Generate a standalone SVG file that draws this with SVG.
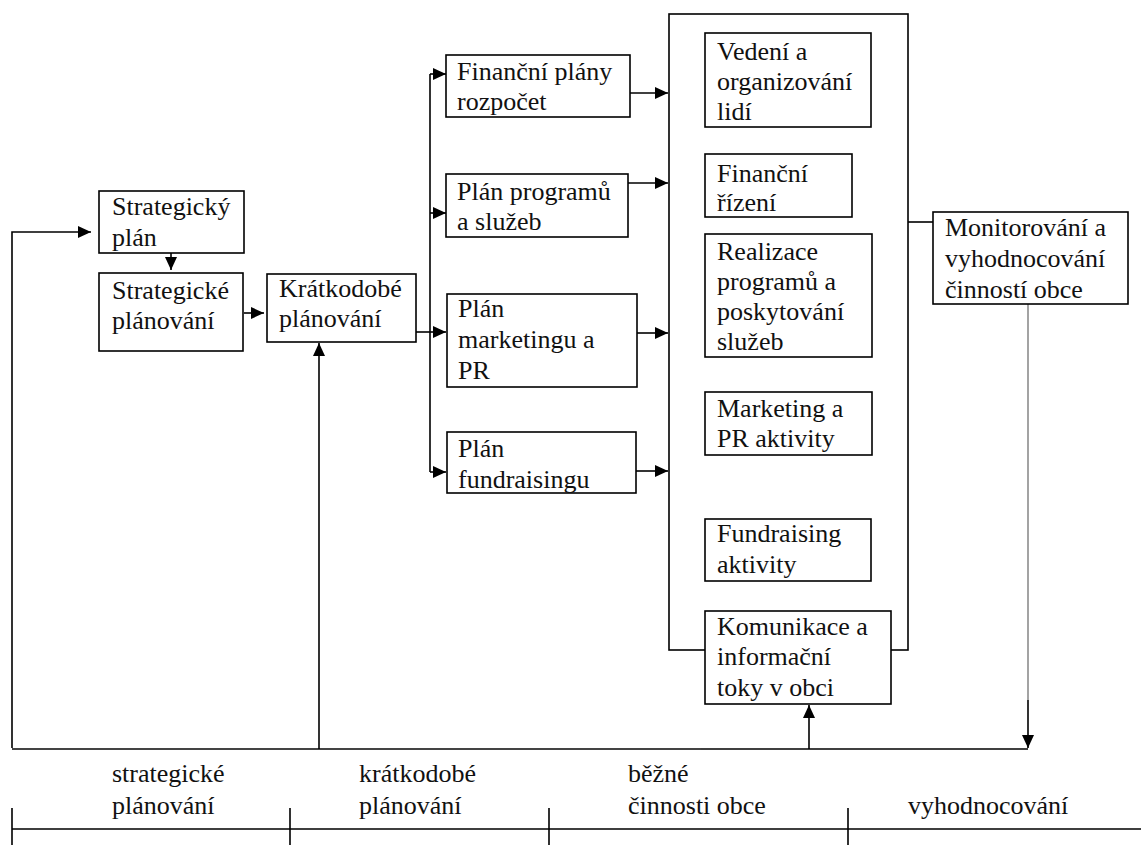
<svg xmlns="http://www.w3.org/2000/svg" width="1141" height="845" viewBox="0 0 1141 845" font-family="Liberation Serif, DejaVu Serif, serif">
<style>
.box{fill:#fff;stroke:#000;stroke-width:1.6}
.t{font-size:26px;fill:#111}
.ln{fill:none;stroke:#000;stroke-width:1.6}
.gr{fill:none;stroke:#999;stroke-width:1.8}
</style>
<defs>
<marker id="ah" markerUnits="userSpaceOnUse" markerWidth="14" markerHeight="12" refX="13" refY="6" orient="auto">
<path d="M0,0 L13,6 L0,12 z" fill="#000"/>
</marker>
</defs>
<rect width="1141" height="845" fill="#fff"/>
<g id="container"><rect class="box" x="669" y="14" width="239" height="636"/></g>
<g id="connectors">
<path class="ln" d="M12,748 L12,232 L91,232" marker-end="url(#ah)"/>
<path class="ln" d="M171,253 L171,270" marker-end="url(#ah)"/>
<path class="ln" d="M244,313 L264,313" marker-end="url(#ah)"/>
<path class="ln" d="M416,332 L446,332" marker-end="url(#ah)"/>
<path class="ln" d="M430,472 L430,74"/>
<path class="ln" d="M430,74 L446,74" marker-end="url(#ah)"/>
<path class="ln" d="M430,213 L446,213" marker-end="url(#ah)"/>
<path class="ln" d="M430,472 L446,472" marker-end="url(#ah)"/>
<path class="ln" d="M630,93 L668,93" marker-end="url(#ah)"/>
<path class="ln" d="M628,183 L668,183" marker-end="url(#ah)"/>
<path class="ln" d="M637,333 L668,333" marker-end="url(#ah)"/>
<path class="ln" d="M636,471 L668,471" marker-end="url(#ah)"/>
<path class="ln" d="M908,222 L933,222"/>
<path d="M12,749 L701,749" fill="none" stroke="#444" stroke-width="1.8"/>
<path class="ln" d="M701,749 L1028,749"/>
<path class="ln" d="M319,749 L319,343" marker-end="url(#ah)"/>
<path class="ln" d="M809,749 L809,705" marker-end="url(#ah)"/>
<path class="gr" d="M1028,304 L1028,700"/>
<path class="ln" d="M1028,700 L1028,748" marker-end="url(#ah)"/>
</g>
<g id="n-strat-plan"><rect class="box" x="99" y="191" width="145" height="62"/><text class="t" x="112" y="215">Strategický</text><text class="t" x="112" y="246">plán</text></g>
<g id="n-strat-planovani"><rect class="box" x="99" y="273" width="144" height="78"/><text class="t" x="112" y="299">Strategické</text><text class="t" x="112" y="329">plánování</text></g>
<g id="n-kratkodobe"><rect class="box" x="267" y="274" width="149" height="68"/><text class="t" x="279" y="297">Krátkodobé</text><text class="t" x="279" y="327">plánování</text></g>
<g id="n-financni-plany"><rect class="box" x="446" y="55" width="184" height="62"/><text class="t" x="457" y="80">Finanční plány</text><text class="t" x="457" y="110">rozpočet</text></g>
<g id="n-plan-programu"><rect class="box" x="446" y="174" width="182" height="63"/><text class="t" x="457" y="200">Plán programů</text><text class="t" x="457" y="230">a služeb</text></g>
<g id="n-plan-marketingu"><rect class="box" x="447" y="294" width="190" height="93"/><text class="t" x="458" y="317">Plán</text><text class="t" x="458" y="348">marketingu a</text><text class="t" x="458" y="379">PR</text></g>
<g id="n-plan-fundraisingu"><rect class="box" x="447" y="432" width="189" height="61"/><text class="t" x="458" y="457">Plán</text><text class="t" x="458" y="488">fundraisingu</text></g>
<g id="n-vedeni"><rect class="box" x="705" y="33" width="166" height="94"/><text class="t" x="717" y="60">Vedení a</text><text class="t" x="717" y="90">organizování</text><text class="t" x="717" y="120">lidí</text></g>
<g id="n-financni-rizeni"><rect class="box" x="705" y="154" width="147" height="63"/><text class="t" x="717" y="182">Finanční</text><text class="t" x="717" y="211">řízení</text></g>
<g id="n-realizace"><rect class="box" x="705" y="234" width="167" height="123"/><text class="t" x="717" y="260">Realizace</text><text class="t" x="717" y="290">programů a</text><text class="t" x="717" y="320">poskytování</text><text class="t" x="717" y="350">služeb</text></g>
<g id="n-marketing"><rect class="box" x="705" y="392" width="167" height="63"/><text class="t" x="717" y="417">Marketing a</text><text class="t" x="717" y="447">PR aktivity</text></g>
<g id="n-fundraising"><rect class="box" x="705" y="519" width="166" height="62"/><text class="t" x="717" y="542">Fundraising</text><text class="t" x="717" y="573">aktivity</text></g>
<g id="n-komunikace"><rect class="box" x="705" y="611" width="186" height="93"/><text class="t" x="717" y="635">Komunikace a</text><text class="t" x="717" y="665">informační</text><text class="t" x="717" y="696">toky v obci</text></g>
<g id="n-monitor"><rect class="box" x="933" y="212" width="195" height="92"/><text class="t" x="945" y="236">Monitorování a</text><text class="t" x="945" y="267">vyhodnocování</text><text class="t" x="945" y="298">činností obce</text></g>
<g id="timeline">
<path class="ln" d="M12,829 L1141,829 M12,808 L12,845 M290,808 L290,845 M549,808 L549,845 M848,808 L848,845"/>
<text class="t" x="112" y="782">strategické</text><text class="t" x="112" y="814">plánování</text>
<text class="t" x="359" y="782">krátkodobé</text><text class="t" x="359" y="814">plánování</text>
<text class="t" x="628" y="782">běžné</text><text class="t" x="628" y="814">činnosti obce</text>
<text class="t" x="908" y="814">vyhodnocování</text>
</g>
</svg>
